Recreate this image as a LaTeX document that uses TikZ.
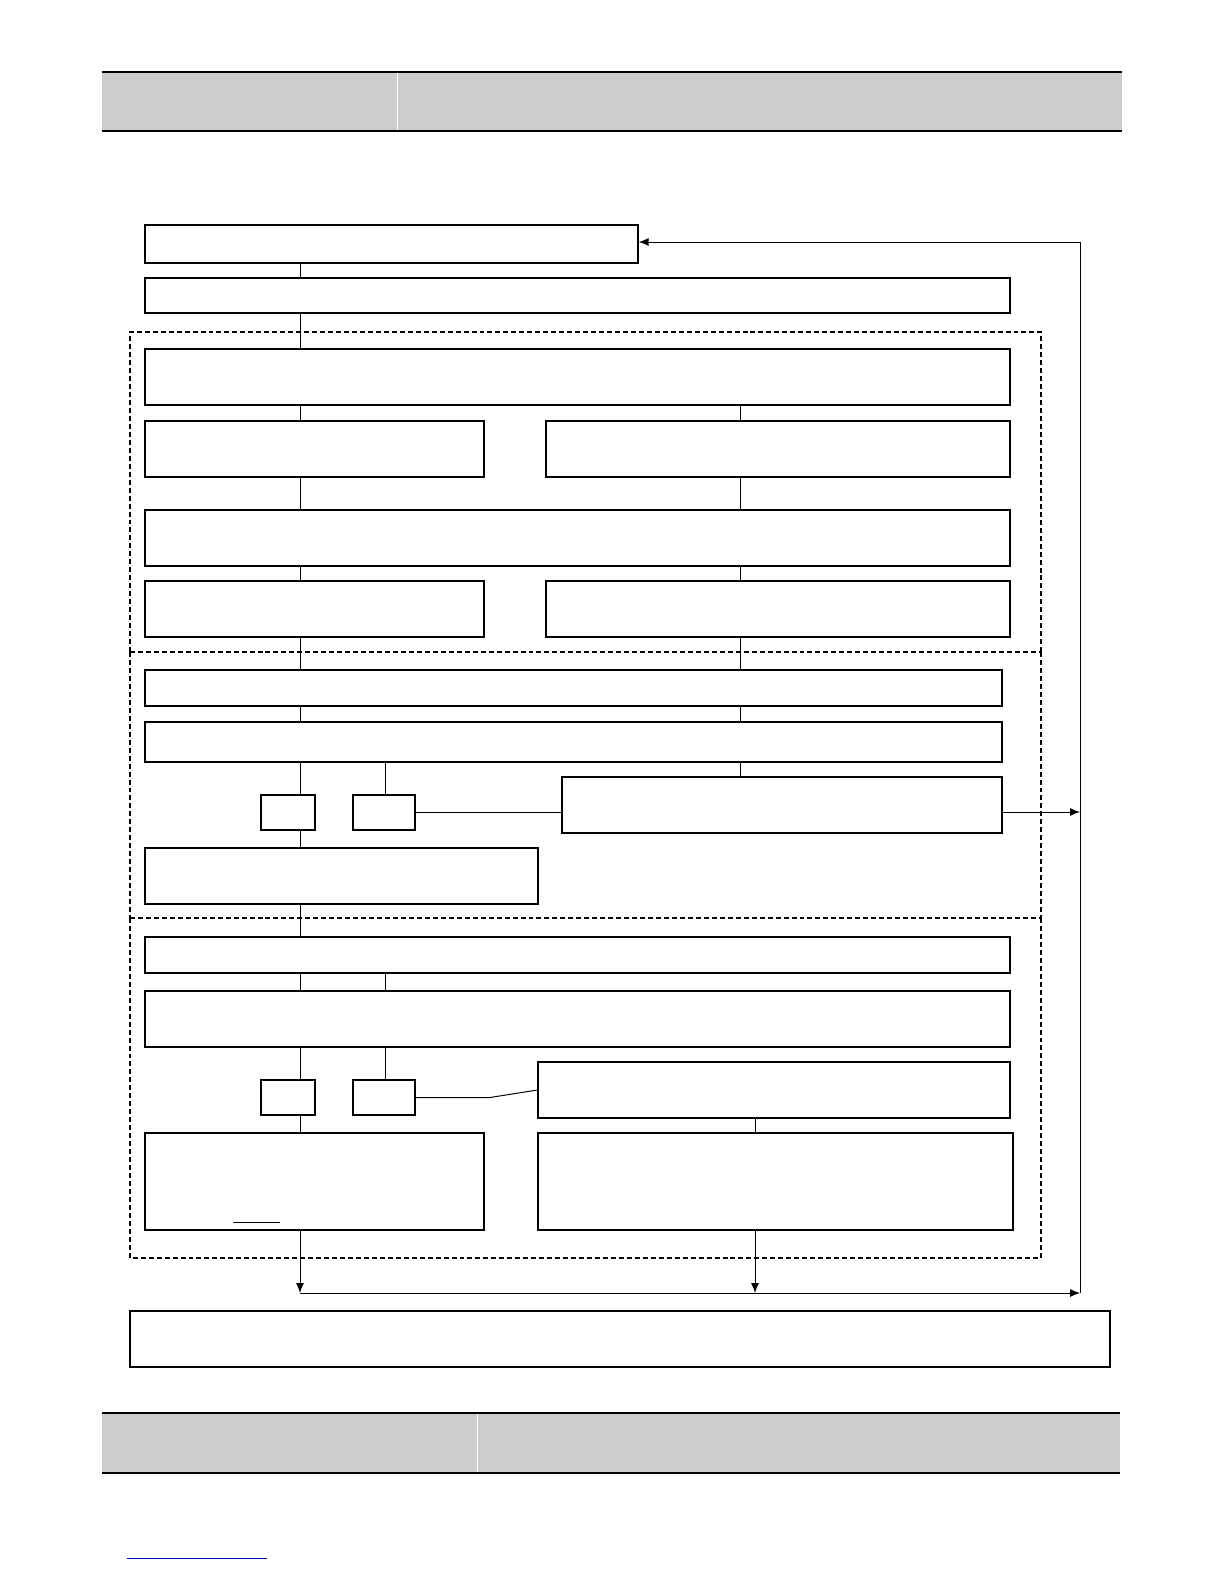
\documentclass[tikz,border=0pt]{standalone}
\usetikzlibrary{arrows.meta}
\begin{document}
\begin{tikzpicture}[x=1bp,y=-1bp,
  bx/.style={draw,line width=1.3pt},
  dbox/.style={draw,line width=1.1pt,dash pattern=on 5pt off 3pt},
  ln/.style={line width=1pt},
  arr/.style={line width=1pt,-{Latex[length=10pt,width=8pt]}}]
\useasboundingbox (0,0) rectangle (1224,1584);
% header/footer
\fill[gray!40] (102,72) rectangle (1122,131);
\draw[line width=1.3pt] (102,72)--(1122,72) (102,131)--(1122,131);
\draw[white,line width=0.6pt] (397,73)--(397,130);
\fill[gray!40] (102,1413) rectangle (1120,1473);
\draw[line width=1.3pt] (102,1413)--(1120,1413) (102,1473)--(1120,1473);
\draw[white,line width=0.6pt] (477,1414)--(477,1472);
\draw[blue!70!black,line width=0.8pt] (127,1558)--(267,1558);
% dashed regions
\draw[dbox] (130,652) -- (130,332) -- (1041,332) -- (1041,652);
\draw[dbox] (130,652) -- (1041,652);
\draw[dbox] (130,652) -- (130,918) (1041,652) -- (1041,918);
\draw[dbox] (130,918) -- (1041,918);
\draw[dbox] (130,918) -- (130,1258) -- (1041,1258) -- (1041,918);
% boxes
\foreach \n/\a/\b/\c/\d in {b1/145/225/638/263, b2/145/278/1010/313, b3/145/349/1010/405,
 b4/145/421/484/477, b5/546/421/1010/477, b6/145/510/1010/566, b7/145/581/484/637,
 b8/546/581/1010/637, b9/145/670/1002/706, b10/145/722/1002/762, s1/261/795/315/830,
 s2/353/795/415/830, b11/562/777/1002/833, b12/145/848/538/904, b13/145/937/1010/973,
 b14/145/991/1010/1047, s3/261/1080/315/1115, s4/353/1080/415/1115, b15/538/1062/1010/1118,
 b16/145/1133/484/1230, b17/538/1133/1013/1230, b18/130/1311/1110/1367}
 {\node[bx,fill=white,inner sep=0pt,minimum width={(\c-\a)*1bp},minimum height={(\d-\b)*1bp}] (\n) at ({(\a+\c)/2},{(\b+\d)/2}) {};}
\draw[line width=0.8pt] (233,1222)--(280,1222);
% connectors
\foreach \u/\v in {b1/b2,b2/b3,b3/b4,b4/b6,b6/b7,b7/b9,b9/b10,b10/s1,s1/b12,b12/b13,b13/b14,b14/s3,s3/b16}
 \draw[ln] (300,0 |- \u.south) -- (300,0 |- \v.north);
\foreach \u/\v in {b3/b5,b5/b6,b6/b8,b8/b9,b9/b10,b10/b11}
 \draw[ln] (740,0 |- \u.south) -- (740,0 |- \v.north);
\foreach \u/\v in {b10/s2,b13/b14,b14/s4}
 \draw[ln] (385,0 |- \u.south) -- (385,0 |- \v.north);
\draw[ln] (s2.east) -- (b11.west |- s2.east);
\draw[ln] (s4.east) -- (490,0 |- s4.east) -- (b15.west);
\draw[ln] (755,0 |- b15.south) -- (755,0 |- b17.north);
\coordinate (j1) at (300,1293); \coordinate (j2) at (755,1293);
\coordinate (rc) at (1080,1293); \coordinate (rt) at (1080,242); \coordinate (rm) at (1080,812);
\draw[arr] (300,0 |- b16.south) -- (j1);
\draw[arr] (755,0 |- b17.south) -- (j2);
\draw[arr] (j1) -- (rc);
\draw[ln] (rc) -- (rt);
\draw[arr] (rt) -- (b1.east |- rt);
\draw[arr] (b11.east |- rm) -- (rm);
\end{tikzpicture}
\end{document}
